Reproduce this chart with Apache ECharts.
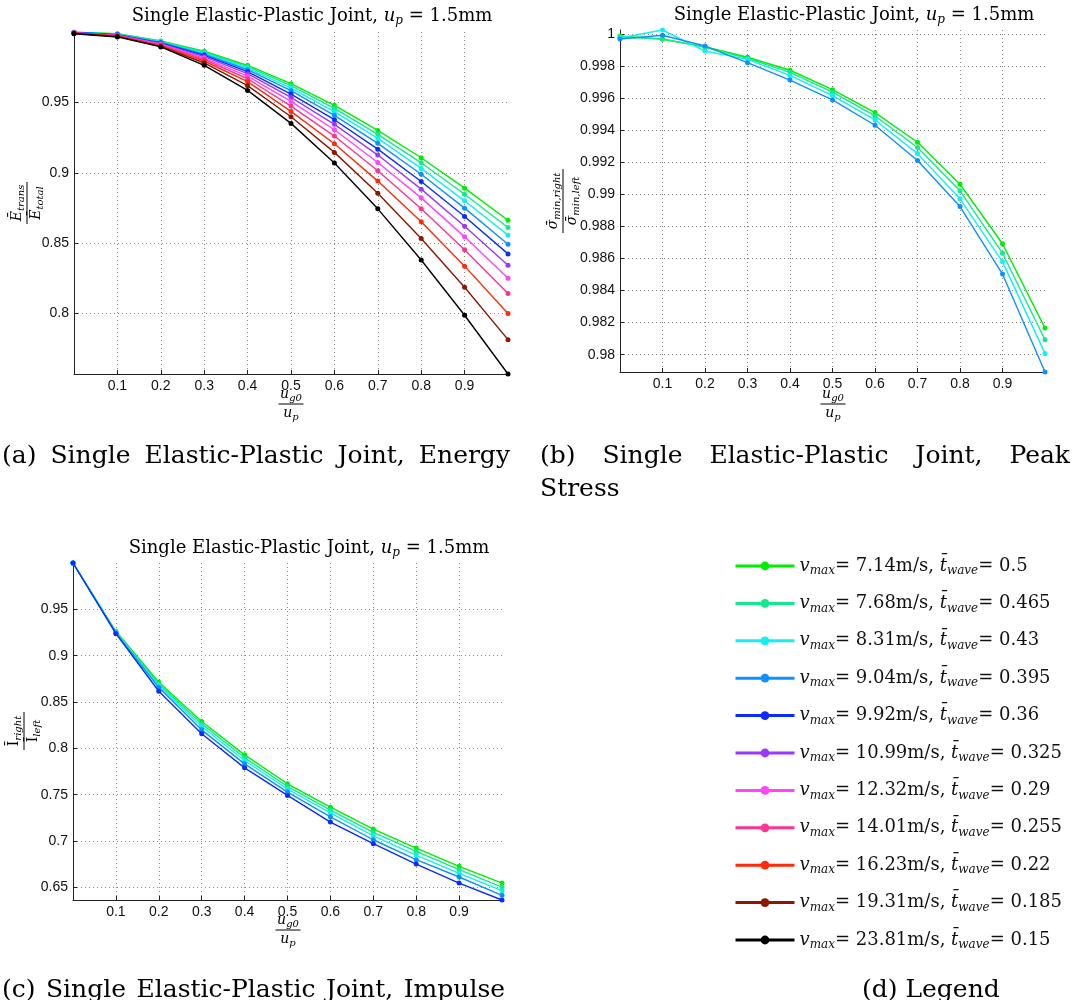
<!DOCTYPE html>
<html><head><meta charset="utf-8">
<script src="https://cdn.jsdelivr.net/npm/echarts@6/dist/echarts.min.js"></script>
<style>html,body{margin:0;padding:0;background:#fff}#c{width:1082px;height:1000px}</style>
</head><body><div id="c"></div>
<script>
// ---------- data ----------
const xVals = [0, 0.1, 0.2, 0.3, 0.4, 0.5, 0.6, 0.7, 0.8, 0.9, 1.0];
const vmax  = ['7.14', '7.68', '8.31', '9.04', '9.92', '10.99', '12.32', '14.01', '16.23', '19.31', '23.81'];
const twave = ['0.5', '0.465', '0.43', '0.395', '0.36', '0.325', '0.29', '0.255', '0.22', '0.185', '0.15'];
const colors = ['#00ee00', '#10ea8c', '#10f0f0', '#1090ff', '#0a2cff', '#9a38ff', '#ff44ff', '#ff3392', '#ff2a08', '#8e1600', '#000000'];

// (a) energy ratio, one row per series
const energyRatio = [
  [0.9999, 0.9988, 0.9936, 0.9863, 0.9763, 0.9633, 0.9479, 0.9301, 0.9107, 0.8891, 0.8663],
  [0.9998, 0.9986, 0.9934, 0.9856, 0.9754, 0.9619, 0.9457, 0.9273, 0.9071, 0.8848, 0.8611],
  [0.9998, 0.9984, 0.9929, 0.9849, 0.9744, 0.9602, 0.9434, 0.9244, 0.9031, 0.8801, 0.8557],
  [0.9997, 0.9982, 0.9926, 0.9842, 0.9732, 0.9583, 0.9408, 0.9209, 0.8990, 0.8749, 0.8493],
  [0.9996, 0.9980, 0.9922, 0.9834, 0.9718, 0.9559, 0.9377, 0.9168, 0.8938, 0.8690, 0.8424],
  [0.9995, 0.9978, 0.9918, 0.9825, 0.9704, 0.9536, 0.9344, 0.9126, 0.8884, 0.8621, 0.8344],
  [0.9994, 0.9976, 0.9913, 0.9815, 0.9687, 0.9507, 0.9306, 0.9073, 0.8822, 0.8545, 0.8251],
  [0.9993, 0.9974, 0.9908, 0.9806, 0.9668, 0.9474, 0.9261, 0.9014, 0.8744, 0.8453, 0.8142],
  [0.9992, 0.9972, 0.9903, 0.9794, 0.9647, 0.9436, 0.9206, 0.8941, 0.8652, 0.8337, 0.8000],
  [0.9991, 0.9969, 0.9898, 0.9780, 0.9619, 0.9398, 0.9145, 0.8855, 0.8533, 0.8187, 0.7815],
  [0.9988, 0.9965, 0.9894, 0.9763, 0.9585, 0.9351, 0.9069, 0.8744, 0.8381, 0.7988, 0.7571]
];
// (b) peak stress ratio (first four cases)
const stressRatio = [
  [0.99988, 0.99967, 0.99921, 0.99855, 0.99774, 0.99653, 0.99510, 0.99325, 0.99063, 0.98692, 0.98166],
  [0.99981, 0.99970, 0.99917, 0.99848, 0.99761, 0.99637, 0.99489, 0.99292, 0.99022, 0.98633, 0.98093],
  [0.99975, 1.00025, 0.99894, 0.99842, 0.99742, 0.99616, 0.99464, 0.99254, 0.98972, 0.98579, 0.98008],
  [0.99969, 0.99992, 0.99925, 0.99821, 0.99713, 0.99589, 0.99431, 0.99211, 0.98924, 0.98503, 0.97892]
];
// (c) impulse ratio (first five cases)
const impulseRatio = [
  [1.0, 0.9263, 0.8713, 0.8290, 0.7930, 0.7618, 0.7366, 0.7129, 0.6924, 0.6727, 0.6547],
  [1.0, 0.9256, 0.8695, 0.8264, 0.7898, 0.7589, 0.7334, 0.7093, 0.6888, 0.6691, 0.6504],
  [1.0, 0.9252, 0.8677, 0.8236, 0.7869, 0.7560, 0.7305, 0.7057, 0.6849, 0.6651, 0.6465],
  [1.0, 0.9245, 0.8656, 0.8200, 0.7833, 0.7528, 0.7262, 0.7014, 0.6799, 0.6612, 0.6414],
  [1.0, 0.9238, 0.8616, 0.8157, 0.7790, 0.7492, 0.7205, 0.6971, 0.6752, 0.6547, 0.6364]
];
const yTickStep = [0.05, 0.002, 0.05];
const xTickStep = 0.1;

// ---------- helpers ----------
const SERIF = 'DejaVu Serif';
const SANS = 'Liberation Sans';
const seriesNames = vmax.map((v, i) => v + '|' + twave[i]);

const R = {
  rm: {fontFamily: SERIF, fontSize: 14, lineHeight: 17, color: '#000', fontWeight: 'normal'},
  it: {fontFamily: SERIF, fontStyle: 'italic', fontSize: 14, lineHeight: 17, color: '#000', fontWeight: 'normal'},
  sub: {fontFamily: SERIF, fontStyle: 'italic', fontSize: 10, lineHeight: 11, verticalAlign: 'bottom', color: '#000', fontWeight: 'normal'}
};
const RT = {
  rm: {fontFamily: SERIF, fontSize: 18, lineHeight: 21, color: '#000', fontWeight: 'normal'},
  it: {fontFamily: SERIF, fontStyle: 'italic', fontSize: 18, lineHeight: 21, color: '#000', fontWeight: 'normal'},
  sub: {fontFamily: SERIF, fontStyle: 'italic', fontSize: 12, lineHeight: 13, verticalAlign: 'bottom', color: '#000', fontWeight: 'normal'}
};
const titleText = '{rm|Single Elastic-Plastic Joint, }{it|u}{sub|p}{rm| = 1.5mm}';

function frac(x, y, rot, num, den, len) {
  return {
    type: 'group', x: x, y: y, rotation: rot,
    children: [
      {type: 'text', x: 0, y: -1, style: {text: num, rich: R, align: 'center', verticalAlign: 'bottom'}},
      {type: 'line', shape: {x1: -len / 2, y1: 0, x2: len / 2, y2: 0}, style: {stroke: '#000', lineWidth: 1}},
      {type: 'text', x: 0, y: 1, style: {text: den, rich: R, align: 'center', verticalAlign: 'top'}}
    ]
  };
}
const CAP = 25;
function caption(x, y, txt) {
  return {type: 'text', x: x, y: y, style: {text: txt, fontFamily: SERIF, fontSize: CAP, fill: '#000', verticalAlign: 'middle'}};
}
const mctx = document.createElement('canvas').getContext('2d');
function justify(words, x0, x1, y) {
  mctx.font = CAP + 'px "' + SERIF + '"';
  const ws = words.map(w => mctx.measureText(w).width);
  const total = ws.reduce((a, b) => a + b, 0);
  const gap = (x1 - x0 - total) / (words.length - 1);
  let x = x0;
  return words.map((w, i) => { const el = caption(x, y, w); x += ws[i] + gap; return el; });
}

const grids = [
  {left: 74, top: 32, width: 434, height: 342},
  {left: 620, top: 30, width: 425, height: 342},
  {left: 73, top: 563, width: 429, height: 337}
];
const yRanges = [[0.7571, 1.0], [0.97892, 1.00025], [0.6364, 1.0]];

const gridLine = {show: true, showMinLine: false, showMaxLine: false, lineStyle: {type: [1, 3], color: '#8a8a8a', width: 1}};
const axLine = {show: true, onZero: false, lineStyle: {color: '#222', width: 1}};
const axTick = {show: true, inside: true, length: 4, lineStyle: {color: '#222'}};

const xAxes = grids.map((g, i) => ({
  type: 'value', gridIndex: i, min: 0, max: 1, minInterval: xTickStep, maxInterval: xTickStep,
  axisLine: axLine, axisTick: axTick, splitLine: gridLine,
  axisLabel: {showMinLabel: false, showMaxLabel: false, color: '#111', fontFamily: SANS, fontSize: 14, margin: 5}
}));
const yAxes = grids.map((g, i) => ({
  type: 'value', gridIndex: i, min: yRanges[i][0], max: yRanges[i][1],
  minInterval: yTickStep[i], maxInterval: yTickStep[i],
  axisLine: axLine, axisTick: axTick, splitLine: gridLine,
  axisLabel: {showMinLabel: false, showMaxLabel: false, color: '#111', fontFamily: SANS, fontSize: 14, margin: 5}
}));

const series = [];
function addPanel(data, gi) {
  data.forEach((row, i) => {
    series.push({
      type: 'line', name: seriesNames[i], xAxisIndex: gi, yAxisIndex: gi,
      data: xVals.map((x, j) => [x, row[j]]),
      color: colors[i], symbol: 'circle', symbolSize: 5, showSymbol: true,
      lineStyle: {width: 1.4, color: colors[i]}, itemStyle: {color: colors[i]},
      emphasis: {disabled: true}, z: 2 + i
    });
  });
}
addPanel(energyRatio, 0);
addPanel(stressRatio, 1);
addPanel(impulseRatio, 2);

const LR = {
  n: {fontFamily: SERIF, fontSize: 18, lineHeight: 22, color: '#111'},
  i: {fontFamily: SERIF, fontStyle: 'italic', fontSize: 18, lineHeight: 22, color: '#111'},
  s: {fontFamily: SERIF, fontStyle: 'italic', fontSize: 12, lineHeight: 13, verticalAlign: 'bottom', color: '#111'}
};

const option = {
  animation: false,
  backgroundColor: '#fff',
  title: [
    {text: titleText, left: 307, top: 1, textAlign: 'center', textStyle: {rich: RT, fontWeight: 'normal'}},
    {text: titleText, left: 849, top: 0, textAlign: 'center', textStyle: {rich: RT, fontWeight: 'normal'}},
    {text: titleText, left: 304, top: 533, textAlign: 'center', textStyle: {rich: RT, fontWeight: 'normal'}}
  ],
  grid: grids,
  xAxis: xAxes,
  yAxis: yAxes,
  legend: {
    data: seriesNames, orient: 'vertical', left: 729, top: 552,
    itemWidth: 59, itemHeight: 11, itemGap: 17.4, selectedMode: false,
    lineStyle: {width: 3},
    formatter: function (name) {
      const p = name.split('|');
      return '{i|v}{s|max}{n|= ' + p[0] + 'm/s, }{i|t̄}{s|wave}{n|= ' + p[1] + '}';
    },
    textStyle: {rich: LR}
  },
  graphic: [
    frac(27, 203, Math.PI / 2, '{it|Ē}{sub|trans}', '{it|Ē}{sub|total}', 42),
    frac(291, 404, 0, '{it|u}{sub|g0}', '{it|u}{sub|p}', 25),
    frac(563, 201, Math.PI / 2, '{it|σ̄}{sub|min,right}', '{it|σ̄}{sub|min,left}', 64),
    frac(833, 404, 0, '{it|u}{sub|g0}', '{it|u}{sub|p}', 25),
    frac(24, 731, Math.PI / 2, '{rm|Ī}{sub|right}', '{rm|Ī}{sub|left}', 38),
    frac(288, 930, 0, '{it|u}{sub|g0}', '{it|u}{sub|p}', 25)
  ].concat(
    justify(['(a)', 'Single', 'Elastic-Plastic', 'Joint,', 'Energy'], 2, 510, 456),
    justify(['(b)', 'Single', 'Elastic-Plastic', 'Joint,', 'Peak'], 540, 1070, 456),
    [caption(540, 489, 'Stress')],
    justify(['(c)', 'Single', 'Elastic-Plastic', 'Joint,', 'Impulse'], 2, 505, 990),
    [caption(862, 990, '(d) Legend')]
  ),
  series: series
};
const chart = echarts.init(document.getElementById('c'), null, {renderer: 'canvas'});
chart.setOption(option);
</script>
</body></html>
